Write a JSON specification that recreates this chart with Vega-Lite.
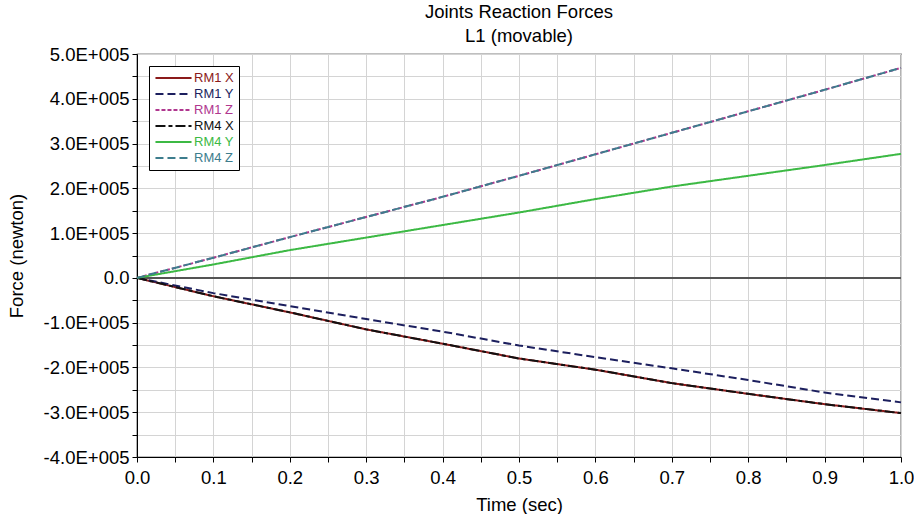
{
  "$schema": "https://vega.github.io/schema/vega-lite/v6.json",
  "width": 764,
  "height": 403,
  "padding": {"left": 7, "top": 2, "right": 0, "bottom": 0},
  "background": "white",
  "config": {
    "font": "Liberation Sans",
    "view": {"stroke": "black", "strokeWidth": 1.2},
    "axis": {"grid": true, "gridColor": "#d4d4d4", "gridWidth": 1, "domainColor": "black", "tickColor": "black", "labelColor": "black", "titleColor": "black", "labelFontSize": 18.5, "titleFontSize": 18.5, "titleFontWeight": "normal", "labelFont": "Liberation Sans", "titleFont": "Liberation Sans"}
  },
  "title": {"text": ["Joints Reaction Forces", "L1 (movable)"], "fontSize": 18.5, "fontWeight": "normal", "font": "Liberation Sans", "lineHeight": 24, "offset": 0, "color": "black"},
  "data": {"values": [
    {"t": 0.0, "f": 0, "s": "RM1 X"}, {"t": 0.1, "f": -41000, "s": "RM1 X"}, {"t": 0.2, "f": -77000, "s": "RM1 X"}, {"t": 0.3, "f": -115000, "s": "RM1 X"}, {"t": 0.4, "f": -147000, "s": "RM1 X"}, {"t": 0.5, "f": -180000, "s": "RM1 X"}, {"t": 0.6, "f": -205000, "s": "RM1 X"}, {"t": 0.7, "f": -235000, "s": "RM1 X"}, {"t": 0.8, "f": -259000, "s": "RM1 X"}, {"t": 0.9, "f": -282000, "s": "RM1 X"}, {"t": 1.0, "f": -302000, "s": "RM1 X"},
    {"t": 0.0, "f": 0, "s": "RM1 Y"}, {"t": 0.1, "f": -34000, "s": "RM1 Y"}, {"t": 0.2, "f": -63000, "s": "RM1 Y"}, {"t": 0.3, "f": -92000, "s": "RM1 Y"}, {"t": 0.4, "f": -120000, "s": "RM1 Y"}, {"t": 0.5, "f": -151000, "s": "RM1 Y"}, {"t": 0.6, "f": -177000, "s": "RM1 Y"}, {"t": 0.7, "f": -202000, "s": "RM1 Y"}, {"t": 0.8, "f": -228000, "s": "RM1 Y"}, {"t": 0.9, "f": -256000, "s": "RM1 Y"}, {"t": 1.0, "f": -278000, "s": "RM1 Y"},
    {"t": 0.0, "f": 0, "s": "RM1 Z"}, {"t": 0.1, "f": 45000, "s": "RM1 Z"}, {"t": 0.2, "f": 91000, "s": "RM1 Z"}, {"t": 0.3, "f": 136000, "s": "RM1 Z"}, {"t": 0.4, "f": 181000, "s": "RM1 Z"}, {"t": 0.5, "f": 228000, "s": "RM1 Z"}, {"t": 0.6, "f": 276000, "s": "RM1 Z"}, {"t": 0.7, "f": 324000, "s": "RM1 Z"}, {"t": 0.8, "f": 372000, "s": "RM1 Z"}, {"t": 0.9, "f": 420000, "s": "RM1 Z"}, {"t": 1.0, "f": 469000, "s": "RM1 Z"},
    {"t": 0.0, "f": 0, "s": "RM4 X"}, {"t": 0.1, "f": -41000, "s": "RM4 X"}, {"t": 0.2, "f": -77000, "s": "RM4 X"}, {"t": 0.3, "f": -115000, "s": "RM4 X"}, {"t": 0.4, "f": -147000, "s": "RM4 X"}, {"t": 0.5, "f": -180000, "s": "RM4 X"}, {"t": 0.6, "f": -205000, "s": "RM4 X"}, {"t": 0.7, "f": -235000, "s": "RM4 X"}, {"t": 0.8, "f": -259000, "s": "RM4 X"}, {"t": 0.9, "f": -282000, "s": "RM4 X"}, {"t": 1.0, "f": -302000, "s": "RM4 X"},
    {"t": 0.0, "f": 0, "s": "RM4 Y"}, {"t": 0.1, "f": 30000, "s": "RM4 Y"}, {"t": 0.2, "f": 62000, "s": "RM4 Y"}, {"t": 0.3, "f": 90000, "s": "RM4 Y"}, {"t": 0.4, "f": 118000, "s": "RM4 Y"}, {"t": 0.5, "f": 146000, "s": "RM4 Y"}, {"t": 0.6, "f": 176000, "s": "RM4 Y"}, {"t": 0.7, "f": 204000, "s": "RM4 Y"}, {"t": 0.8, "f": 228000, "s": "RM4 Y"}, {"t": 0.9, "f": 252000, "s": "RM4 Y"}, {"t": 1.0, "f": 277000, "s": "RM4 Y"},
    {"t": 0.0, "f": 0, "s": "RM4 Z"}, {"t": 0.1, "f": 45000, "s": "RM4 Z"}, {"t": 0.2, "f": 91000, "s": "RM4 Z"}, {"t": 0.3, "f": 136000, "s": "RM4 Z"}, {"t": 0.4, "f": 181000, "s": "RM4 Z"}, {"t": 0.5, "f": 228000, "s": "RM4 Z"}, {"t": 0.6, "f": 276000, "s": "RM4 Z"}, {"t": 0.7, "f": 324000, "s": "RM4 Z"}, {"t": 0.8, "f": 372000, "s": "RM4 Z"}, {"t": 0.9, "f": 420000, "s": "RM4 Z"}, {"t": 1.0, "f": 469000, "s": "RM4 Z"}
  ]},
  "layer": [
    {
      "mark": {"type": "rule", "color": "#555555", "strokeWidth": 1.5},
      "encoding": {
        "x": {"datum": 0, "type": "quantitative", "title": "Time (sec)",
          "scale": {"domain": [0, 1], "nice": false},
          "axis": {"values": [0, 0.05, 0.1, 0.15, 0.2, 0.25, 0.3, 0.35, 0.4, 0.45, 0.5, 0.55, 0.6, 0.65, 0.7, 0.75, 0.8, 0.85, 0.9, 0.95, 1.0],
            "labelExpr": "round(datum.value*100) % 10 == 0 ? format(datum.value, '.1f') : ''",
            "tickSize": 5, "labelPadding": 6, "titlePadding": 9, "labelFlush": false}},
        "x2": {"datum": 1},
        "y": {"datum": 0, "type": "quantitative", "title": "Force (newton)",
          "scale": {"domain": [-400000, 500000], "nice": false},
          "axis": {"grid": true, "values": [-400000, -350000, -300000, -250000, -200000, -150000, -100000, -50000, 0, 50000, 100000, 150000, 200000, 250000, 300000, 350000, 400000, 450000, 500000],
            "labelExpr": "datum.value % 100000 == 0 ? (datum.value == 0 ? '0.0' : (datum.value < 0 ? '-' : '') + format(abs(datum.value)/100000, '.1f') + 'E+005') : ''",
            "tickSize": 5, "labelPadding": 3, "titlePadding": 17}}}
    },
    {
      "mark": {"type": "line", "strokeWidth": 2},
      "encoding": {
        "x": {"field": "t", "type": "quantitative", "title": "Time (sec)",
          "scale": {"domain": [0, 1], "nice": false},
          "axis": {"values": [0, 0.05, 0.1, 0.15, 0.2, 0.25, 0.3, 0.35, 0.4, 0.45, 0.5, 0.55, 0.6, 0.65, 0.7, 0.75, 0.8, 0.85, 0.9, 0.95, 1.0],
            "labelExpr": "round(datum.value*100) % 10 == 0 ? format(datum.value, '.1f') : ''",
            "tickSize": 5, "labelPadding": 6, "titlePadding": 9, "labelFlush": false}},
        "y": {"field": "f", "type": "quantitative", "title": "Force (newton)",
          "scale": {"domain": [-400000, 500000], "nice": false},
          "axis": {"grid": true, "values": [-400000, -350000, -300000, -250000, -200000, -150000, -100000, -50000, 0, 50000, 100000, 150000, 200000, 250000, 300000, 350000, 400000, 450000, 500000],
            "labelExpr": "datum.value % 100000 == 0 ? (datum.value == 0 ? '0.0' : (datum.value < 0 ? '-' : '') + format(abs(datum.value)/100000, '.1f') + 'E+005') : ''",
            "tickSize": 5, "labelPadding": 3, "titlePadding": 17}},
        "color": {"field": "s", "type": "nominal", "title": null,
          "scale": {"domain": ["RM1 X", "RM1 Y", "RM1 Z", "RM4 X", "RM4 Y", "RM4 Z"],
            "range": ["#8b1a1a", "#1c1f5e", "#b0378f", "#111111", "#3cb944", "#3d7d8d"]},
          "legend": {"orient": "top-left", "offset": 12, "strokeColor": "black", "fillColor": "white", "padding": 5,
            "labelFontSize": 13, "labelFont": "Liberation Sans", "symbolType": "stroke", "symbolSize": 1300, "symbolStrokeWidth": 2,
            "rowPadding": 2, "labelOffset": 1, "clipHeight": 14,
            "encode": {"labels": {"update": {"fill": {"scale": "color", "field": "value"}}}}}},
        "strokeDash": {"field": "s", "type": "nominal", "legend": null,
          "scale": {"domain": ["RM1 X", "RM1 Y", "RM1 Z", "RM4 X", "RM4 Y", "RM4 Z"],
            "range": [[1, 0], [8, 4], [4, 2], [10, 3, 4, 3], [1, 0], [8, 4]]}}
      }
    }
  ]
}
